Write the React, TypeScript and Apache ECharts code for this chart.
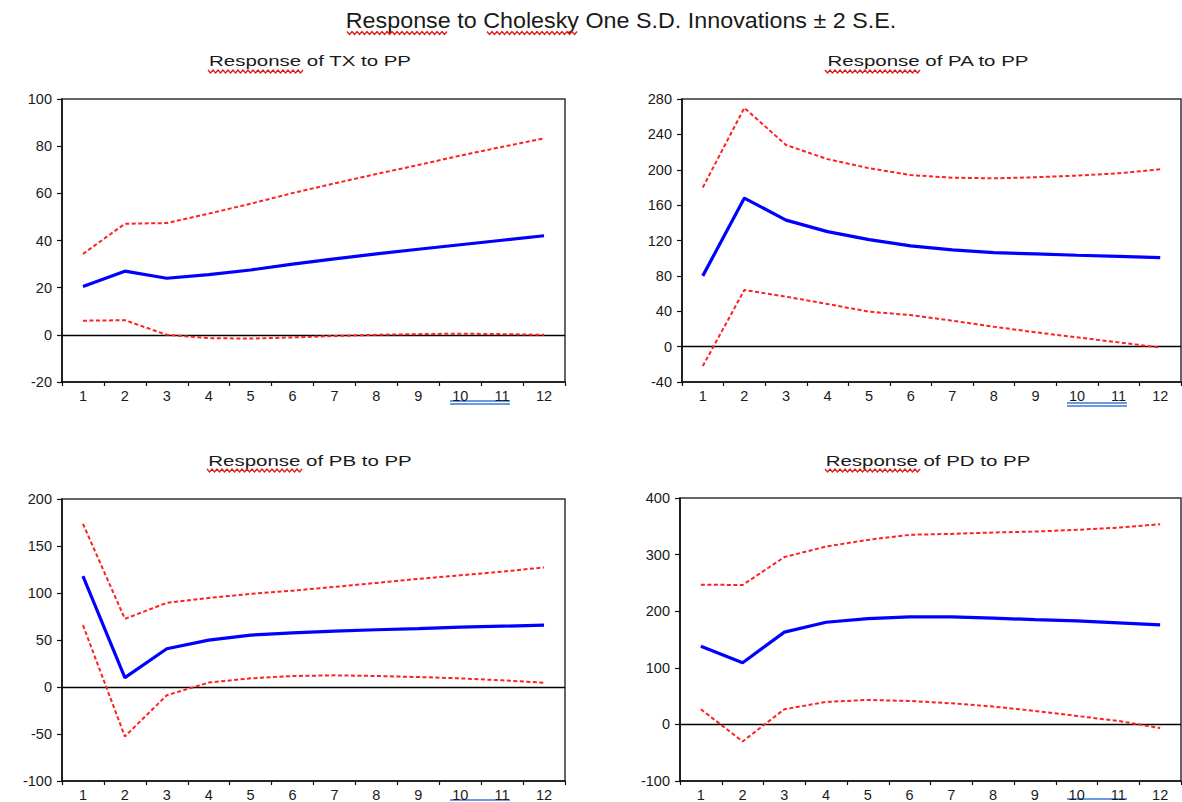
import React, { useEffect, useRef } from "react";
import * as echarts from "echarts";

const periods = ["1", "2", "3", "4", "5", "6", "7", "8", "9", "10", "11", "12"];

const mainTitle = "Response to Cholesky One S.D. Innovations \u00b1 2 S.E.";
const panelTitles = ["Response of TX to PP", "Response of PA to PP", "Response of PB to PP", "Response of PD to PP"];

const txResp = [20.5, 27, 24, 25.5, 27.5, 30, 32.2, 34.3, 36.3, 38.2, 40.1, 42];
const txUpper = [34.3, 47.1, 47.4, 51.4, 55.6, 60.1, 64.2, 68.2, 72, 76, 79.7, 83.3];
const txLower = [6, 6.2, 0, -1.4, -1.6, -1.1, -0.5, 0, 0.3, 0.5, 0.3, 0];

const paResp = [80, 168, 143, 130, 121, 114, 109.3, 106.3, 104.8, 103.3, 102.1, 100.6];
const paUpper = [180, 270, 228, 212, 201.7, 194, 191, 190.3, 191.5, 193.3, 196, 200.5];
const paLower = [-22, 64, 56.5, 48.2, 39.5, 35.7, 29.3, 22.5, 16.2, 10.5, 4.8, -1];

const pbResp = [118, 10, 40.7, 49.9, 55.2, 57.5, 59.4, 60.9, 62.2, 63.6, 64.7, 65.8];
const pbUpper = [173.6, 72.5, 89.5, 94.8, 99, 102.5, 106.5, 110.7, 115, 118.8, 122.7, 127.2];
const pbLower = [65.8, -52.6, -8.8, 4.7, 9.2, 11.7, 12.4, 11.7, 10.6, 9.2, 7.1, 4.6];

const pdResp = [138, 109, 163, 180.5, 187, 190, 190, 187.6, 185.2, 182.9, 179.4, 175.9];
const pdUpper = [246.8, 246.3, 295.6, 314.3, 326, 335, 336.6, 339, 340.7, 343.7, 347.7, 353.7];
const pdLower = [26.8, -30.1, 26.8, 39.7, 43.2, 41.4, 37.3, 31.5, 23.8, 15, 6.2, -6.5];

const yRanges = [
  { min: -20, max: 100, interval: 20 },
  { min: -40, max: 280, interval: 40 },
  { min: -100, max: 200, interval: 50 },
  { min: -100, max: 400, interval: 100 },
];

const FONT = '"Liberation Sans", Arial, sans-serif';

function squiggle(x0: number, x1: number, y: number) {
  const pts: number[][] = [];
  let up = true;
  for (let x = x0; x <= x1; x += 2.5) {
    pts.push([x, up ? y - 1.5 : y + 1.5]);
    up = !up;
  }
  return {
    type: "polyline",
    silent: true,
    shape: { points: pts },
    style: { stroke: "#e01818", lineWidth: 1.3, fill: null },
  };
}

function uline(x0: number, x1: number, y: number) {
  return {
    type: "line",
    silent: true,
    shape: { x1: x0, y1: y, x2: x1, y2: y },
    style: { stroke: "#3b78d8", lineWidth: 1.3 },
  };
}

function textEl(text: string, x: number, y: number, size: number, sx: number) {
  return {
    type: "text",
    x,
    y,
    scaleX: sx,
    silent: true,
    style: {
      text,
      fontSize: size,
      fontFamily: FONT,
      fill: "#1a1a1a",
      textAlign: "center",
      align: "center",
      textVerticalAlign: "middle",
      verticalAlign: "middle",
    },
  };
}

export default function App() {
  const ref = useRef<HTMLDivElement>(null);

  useEffect(() => {
    if (!ref.current) return;
    const chart = echarts.init(ref.current, undefined, { renderer: "svg" });

    const grids = [
      { left: 62, top: 99, width: 503, height: 283 },
      { left: 682, top: 99, width: 499, height: 283 },
      { left: 62, top: 499, width: 503, height: 283 },
      { left: 680, top: 498, width: 501, height: 284 },
    ];
    const panels = [
      [txResp, txUpper, txLower],
      [paResp, paUpper, paLower],
      [pbResp, pbUpper, pbLower],
      [pdResp, pdUpper, pdLower],
    ];

    const series: any[] = [];
    panels.forEach((p, i) => {
      series.push({
        type: "line",
        xAxisIndex: i,
        yAxisIndex: i,
        data: p[1],
        symbol: "none",
        lineStyle: { color: "#ff2020", width: 2, type: [4, 2.5] },
        z: 3,
      });
      series.push({
        type: "line",
        xAxisIndex: i,
        yAxisIndex: i,
        data: p[2],
        symbol: "none",
        lineStyle: { color: "#ff2020", width: 2, type: [4, 2.5] },
        z: 3,
      });
      series.push({
        type: "line",
        xAxisIndex: i,
        yAxisIndex: i,
        data: p[0],
        symbol: "none",
        lineStyle: { color: "#0000ff", width: 3.2 },
        z: 4,
        markLine: {
          silent: true,
          symbol: ["none", "none"],
          label: { show: false },
          lineStyle: { color: "#000", width: 1.3, type: "solid" },
          data: [{ yAxis: 0 }],
          z: 2,
        },
      });
    });

    const graphic: any[] = [
      textEl(mainTitle, 621, 20, 22, 1.06),
      textEl(panelTitles[0], 310, 61, 15.5, 1.32),
      textEl(panelTitles[1], 928, 61, 15.5, 1.32),
      textEl(panelTitles[2], 310, 461, 15.5, 1.32),
      textEl(panelTitles[3], 928, 461, 15.5, 1.32),
      squiggle(347, 448, 33),
      squiggle(487, 578, 33),
      squiggle(208, 303, 71.5),
      squiggle(825, 920, 71.5),
      squiggle(207, 302, 470.5),
      squiggle(825, 920, 470.5),
      uline(450, 510, 401),
      uline(450, 510, 404),
      uline(1067, 1127, 403),
      uline(1067, 1127, 406),
      uline(450, 510, 800),
      uline(1067, 1127, 799),
    ];

    chart.setOption({
      animation: false,
      backgroundColor: "#fff",
      grid: grids.map((g) => ({ ...g, show: true, borderColor: "#333", borderWidth: 1.5, backgroundColor: "transparent" })),
      xAxis: grids.map((_, i) => ({
        type: "category",
        gridIndex: i,
        data: periods,
        boundaryGap: true,
        axisLine: { show: true, onZero: false, lineStyle: { color: "#111", width: 1.6 } },
        axisTick: { show: true, inside: false, length: 4, lineStyle: { color: "#111", width: 1.2 } },
        axisLabel: { color: "#1a1a1a", fontSize: 14.5, fontFamily: FONT, margin: 6, interval: 0 },
        splitLine: { show: false },
      })),
      yAxis: grids.map((_, i) => ({
        type: "value",
        gridIndex: i,
        min: yRanges[i].min,
        max: yRanges[i].max,
        interval: yRanges[i].interval,
        axisLine: { show: true, lineStyle: { color: "#111", width: 1.6 } },
        axisTick: { show: true, inside: false, length: 5, lineStyle: { color: "#111", width: 1.2 } },
        axisLabel: { color: "#1a1a1a", fontSize: 14.5, fontFamily: FONT, margin: 10 },
        splitLine: { show: false },
      })),
      series,
      graphic,
    });

    return () => chart.dispose();
  }, []);

  return (
    <div
      ref={ref}
      style={{ position: "fixed", left: 0, top: 0, width: 1182, height: 802, background: "#fff" }}
    />
  );
}
